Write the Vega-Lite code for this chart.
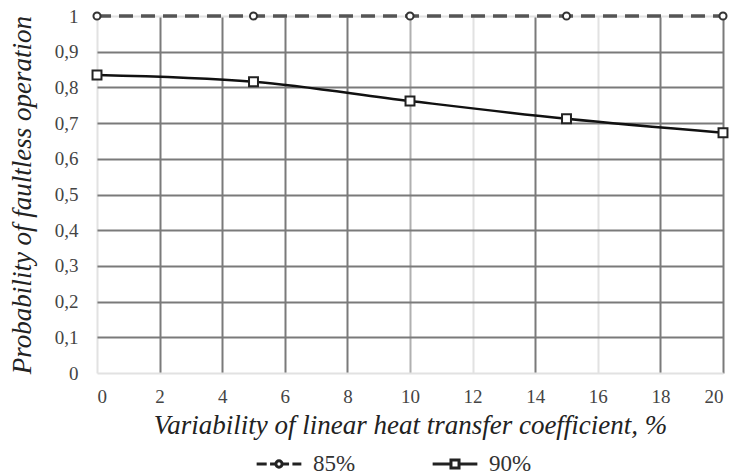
{
  "$schema": "https://vega.github.io/schema/vega-lite/v6.json",
  "autosize": "none",
  "width": 626,
  "height": 357,
  "padding": {"left": 97, "top": 16, "right": 11, "bottom": 102},
  "background": "white",
  "config": {
    "view": {"stroke": null},
    "font": "Liberation Serif"
  },
  "data": {
    "values": [
      {"x": 0, "p": 1.0, "series": "85%"},
      {"x": 5, "p": 1.0, "series": "85%"},
      {"x": 10, "p": 1.0, "series": "85%"},
      {"x": 15, "p": 1.0, "series": "85%"},
      {"x": 20, "p": 1.0, "series": "85%"},
      {"x": 0, "p": 0.835, "series": "90%"},
      {"x": 5, "p": 0.816, "series": "90%"},
      {"x": 10, "p": 0.762, "series": "90%"},
      {"x": 15, "p": 0.712, "series": "90%"},
      {"x": 20, "p": 0.673, "series": "90%"}
    ]
  },
  "encoding": {
    "x": {
      "field": "x", "type": "quantitative",
      "scale": {"domain": [0, 20], "nice": false},
      "axis": {
        "values": [0, 2, 4, 6, 8, 10, 12, 14, 16, 18, 20],
        "title": "Variability of linear heat transfer coefficient, %",
        "titleFont": "Liberation Serif", "titleFontStyle": "italic", "titleFontWeight": "normal",
        "titleFontSize": 27, "titleColor": "#222", "titlePadding": 6,
        "labelFont": "Liberation Serif", "labelFontSize": 19, "labelColor": "#444", "labelPadding": 14,
        "ticks": false, "domain": false,
        "grid": true, "gridWidth": 2, "gridOpacity": 1,
        "gridColor": {
          "condition": [
            {"test": "datum.value == 0 || datum.value == 12 || datum.value == 16", "value": "#e2e2e2"},
            {"test": "datum.value == 10", "value": "#b0b0b0"}
          ],
          "value": "#7a7a7a"
        }
      }
    },
    "y": {
      "field": "p", "type": "quantitative",
      "scale": {"domain": [0, 1], "nice": false},
      "axis": {
        "values": [0, 0.1, 0.2, 0.3, 0.4, 0.5, 0.6, 0.7, 0.8, 0.9, 1],
        "labelExpr": "replace(format(datum.value, '.1~f'), '.', ',')",
        "title": "Probability of faultless operation",
        "titleFont": "Liberation Serif", "titleFontStyle": "italic", "titleFontWeight": "normal",
        "titleFontSize": 27, "titleColor": "#222", "titlePadding": 18,
        "labelFont": "Liberation Serif", "labelFontSize": 19, "labelColor": "#444", "labelPadding": 19,
        "ticks": false, "domain": false,
        "grid": true, "gridWidth": 2, "gridOpacity": 1,
        "gridColor": {
          "condition": {"test": "datum.value == 0 || datum.value == 1", "value": "#e2e2e2"},
          "value": "#7a7a7a"
        }
      }
    }
  },
  "layer": [
    {
      "transform": [{"filter": "datum.series == '85%'"}],
      "mark": {"type": "line", "color": "#555", "strokeWidth": 3.5, "strokeDash": [14, 8]}
    },
    {
      "transform": [{"filter": "datum.series == '90%'"}],
      "mark": {"type": "line", "color": "#111", "strokeWidth": 2.5, "interpolate": "monotone"}
    },
    {
      "transform": [{"filter": "datum.series == '85%'"}],
      "mark": {"type": "point", "shape": "circle", "filled": true, "fill": "white", "stroke": "#333", "strokeWidth": 2, "size": 50, "opacity": 1}
    },
    {
      "transform": [{"filter": "datum.series == '90%'"}],
      "mark": {"type": "point", "shape": "square", "filled": true, "fill": "white", "stroke": "#222", "strokeWidth": 2, "size": 80, "opacity": 1}
    },
    {
      "mark": {"type": "point", "opacity": 0},
      "encoding": {
        "shape": {
          "field": "series", "type": "nominal",
          "scale": {
            "domain": ["85%", "90%"],
            "range": [
              "M-1,0H-0.55M-0.4,0H-0.14M0.14,0H0.45M0.6,0H1M-0.14,0A0.14,0.14 0 1,0 0.14,0A0.14,0.14 0 1,0 -0.14,0",
              "M-1,0H-0.18M0.18,0H1M-0.18,-0.18H0.18V0.18H-0.18Z"
            ]
          },
          "legend": {
            "title": null,
            "orient": "none",
            "direction": "horizontal",
            "legendX": 158,
            "legendY": 424,
            "symbolSize": 2000,
            "symbolOpacity": 1,
            "symbolFillColor": "white",
            "symbolStrokeColor": "#222",
            "symbolStrokeWidth": 3,
            "labelFont": "Liberation Serif",
            "labelFontSize": 23,
            "labelColor": "#333",
            "labelOffset": 10,
            "columnPadding": 70
          }
        }
      }
    }
  ]
}
